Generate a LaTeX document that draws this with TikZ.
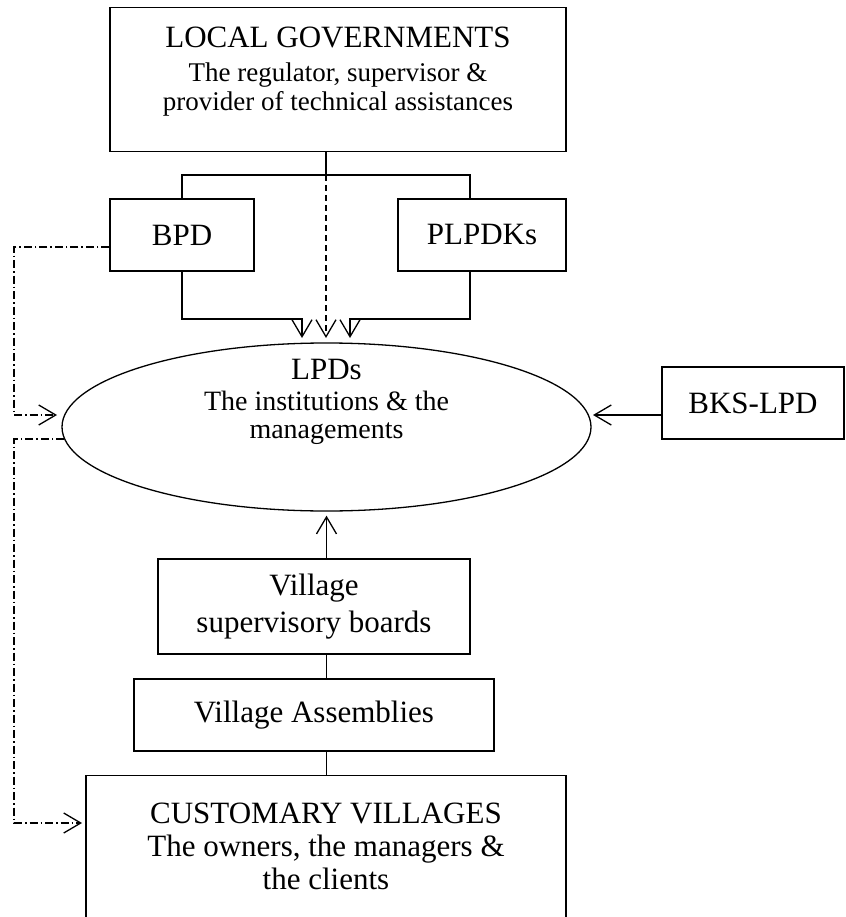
\documentclass[tikz,border=0pt]{standalone}
\usepackage{fontspec}
\setmainfont{Liberation Serif}
\usetikzlibrary{arrows.meta,shapes.geometric}

\begin{document}
\begin{tikzpicture}[x=1pt, y=-1pt, line width=1.3pt, >={Straight Barb[length=17pt,width=20pt]},
  box/.style={draw, rectangle, inner sep=0pt, align=center, font=\fontsize{31}{35}\selectfont},
  dashline/.style={dash pattern=on 6pt off 4pt},
  dashdot/.style={dash pattern=on 8pt off 3pt on 1.5pt off 3pt}]
\useasboundingbox (0,0) rectangle (845,917);
% Nodos
\node [box, anchor=north, minimum width=456, inner ysep=19pt, text depth=22pt,
       font=\fontsize{27}{29}\selectfont] (gov) at (338,7)
      {{\fontsize{31}{34}\selectfont LOCAL GOVERNMENTS}\\[5pt]
       The regulator, supervisor \&\\ provider of technical assistances};
\node [box, minimum width=144, minimum height=72] (bpd) at (182,235) {BPD};
\node [box, minimum width=168, minimum height=72] (plp) at (482,235) {PLPDKs};
\node [ellipse, draw, minimum width=529, minimum height=168] (lpd) at (326.5,427) {};
\node [align=center, font=\fontsize{28}{28}\selectfont] (lpdtxt) at (326.5,402)
      {{\fontsize{31}{34}\selectfont LPDs}\\[3pt] The institutions \& the\\ managements};
\node [box, minimum width=182, minimum height=72] (bks) at (753,403) {BKS-LPD};
\node [box, minimum width=312, minimum height=95, font=\fontsize{31}{37}\selectfont] (vsb) at (314,606.5)
      {Village\\ supervisory boards};
\node [box, minimum width=360, minimum height=72] (va) at (314,715) {Village Assemblies};
\node [box, anchor=north, minimum width=480, inner ysep=27.5pt, text depth=80pt,
       font=\fontsize{31}{33}\selectfont] (cust) at (326,775)
      {CUSTOMARY VILLAGES\\ The owners, the managers \&\\ the clients};
% Puntos
\coordinate (hub) at (326,175);
\coordinate (bpdin) at (302,338);
\coordinate (plpin) at (350,338);
\coordinate (bksin) at (593,415);
\coordinate (lpdinL) at (57,415);
\coordinate (lpdoutL) at (64,439);
\coordinate (custin) at (82,823);
% Ejes
\draw (gov.south -| hub) -- (hub);
\draw (bpd.north) |- (hub);
\draw (hub) -| ([xshift=-12pt]plp.north);
\draw [->] (bpd.south) |- ([yshift=19pt]bpdin) -- (bpdin);
\draw [->] ([xshift=-12pt]plp.south) |- ([yshift=19pt]plpin) -- (plpin);
\draw [->, dashline] (hub) -- (hub |- bpdin);
\draw [->] ([yshift=-12pt]bks.west) -- (bksin);
\draw [->, shorten >=4pt] (vsb.north -| lpd) -- (lpd.south);
\draw (vsb.south -| lpd) -- (va.north -| lpd);
\draw (va.south -| lpd) -- (cust.north -| lpd);
% ---
% dash-dot
% ---
\draw [->, dashdot] ([yshift=-12pt]bpd.west) -| ([xshift=-43pt]lpdinL) -- (lpdinL);
\draw [->, dashdot] (lpdoutL) -| ([xshift=-68pt]custin) -- (custin);
\end{tikzpicture}
\end{document}
